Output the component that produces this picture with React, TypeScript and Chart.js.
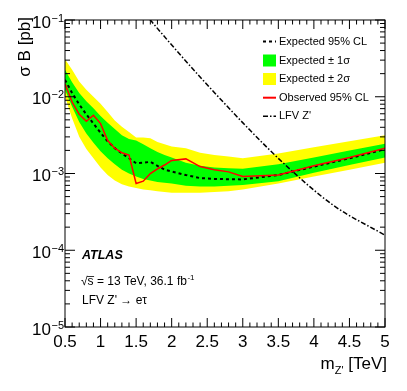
import { useEffect, useRef } from 'react';
import { Chart, registerables } from 'chart.js';

Chart.register(...registerables);

const massPoints = [0.5, 0.6, 0.7, 0.8, 0.9, 1.0, 1.1, 1.2, 1.3, 1.4, 1.5, 1.6, 1.7, 1.8, 1.9, 2.0, 2.2, 2.4, 2.6, 2.8, 3.0, 3.5, 4.0, 4.5, 5.0];
const observedLimit = [0.0148, 0.00851, 0.00589, 0.00479, 0.00575, 0.00447, 0.00269, 0.00214, 0.00186, 0.00174, 0.000741, 0.000794, 0.00100, 0.00115, 0.00129, 0.00148, 0.00155, 0.00123, 0.00112, 0.00105, 0.000912, 0.000955, 0.00126, 0.00162, 0.00214];
const expectedLimit = [0.0166, 0.0112, 0.00794, 0.00589, 0.00447, 0.00339, 0.00263, 0.00214, 0.00182, 0.00158, 0.00136, 0.00138, 0.00142, 0.00126, 0.00112, 0.00106, 0.000955, 0.000871, 0.000851, 0.000841, 0.000838, 0.000955, 0.00123, 0.00158, 0.00207];
const plus1Sigma = [0.0224, 0.0155, 0.0112, 0.00871, 0.00708, 0.00562, 0.00457, 0.00380, 0.00316, 0.00282, 0.00269, 0.00240, 0.00214, 0.00191, 0.00174, 0.00162, 0.00138, 0.00126, 0.00120, 0.00117, 0.00115, 0.00132, 0.00162, 0.00200, 0.00245];
const minus1Sigma = [0.0123, 0.00741, 0.00468, 0.00331, 0.00251, 0.00195, 0.00158, 0.00132, 0.00112, 0.00100, 0.000912, 0.000851, 0.000813, 0.000776, 0.000759, 0.000741, 0.000692, 0.000676, 0.000676, 0.000692, 0.000708, 0.000794, 0.00102, 0.00129, 0.00162];
const plus2Sigma = [0.0309, 0.0224, 0.0158, 0.0123, 0.0100, 0.00813, 0.00631, 0.00490, 0.00407, 0.00347, 0.00295, 0.00295, 0.00288, 0.00257, 0.00240, 0.00224, 0.00214, 0.00186, 0.00174, 0.00166, 0.00158, 0.00182, 0.00219, 0.00263, 0.00316];
const minus2Sigma = [0.0100, 0.00525, 0.00302, 0.00209, 0.00158, 0.00120, 0.000955, 0.000813, 0.000724, 0.000676, 0.000646, 0.000617, 0.000603, 0.000589, 0.000575, 0.000562, 0.000562, 0.000562, 0.000575, 0.000589, 0.000617, 0.000741, 0.000912, 0.00112, 0.00138];
const zPrimeMass = [1.6, 1.7, 1.94, 2.4, 3.1, 3.57, 4.27, 5.0];
const zPrimeXsec = [0.129, 0.100, 0.0548, 0.0181, 0.00368, 0.00137, 0.000387, 0.000157];

const xTickValues = [0.5, 1, 1.5, 2, 2.5, 3, 3.5, 4, 4.5, 5];
const xTickLabels = ['0.5', '1', '1.5', '2', '2.5', '3', '3.5', '4', '4.5', '5'];
const yTickValues = [1e-1, 1e-2, 1e-3, 1e-4, 1e-5];
const yTickExponents = ['\u22121', '\u22122', '\u22123', '\u22124', '\u22125'];
const legendLabels = ['Expected 95% CL', 'Expected \u00b1 1\u03c3', 'Expected \u00b1 2\u03c3', 'Observed 95% CL', "LFV Z'"];

const FONT = '"Liberation Sans", Arial, Helvetica, sans-serif';
const GREEN = '#00ff00';
const YELLOW = '#ffff00';
const RED = '#ff0000';
const EXP_DASH = [3, 3];
const ZP_DASH = [5, 2, 1.5, 2];

const pts = (xs: number[], ys: number[]) => xs.map((x, i) => ({ x, y: ys[i] }));

const decorPlugin = {
  id: 'rootDecor',
  afterDatasetsDraw(chart: any) {
    const ctx = chart.ctx as CanvasRenderingContext2D;
    const { left, right, top, bottom } = chart.chartArea;
    const xs = chart.scales.x;
    const ys = chart.scales.y;
    ctx.save();
    ctx.strokeStyle = '#000';
    ctx.lineWidth = 1;
    ctx.setLineDash([]);
    ctx.strokeRect(left, top, right - left, bottom - top);
    ctx.beginPath();
    for (let i = 5; i <= 50; i++) {
      const px = xs.getPixelForValue(i / 10);
      const len = i % 5 === 0 ? 9 : 4.5;
      ctx.moveTo(px, bottom);
      ctx.lineTo(px, bottom - len);
      ctx.moveTo(px, top);
      ctx.lineTo(px, top + len);
    }
    for (let e = -5; e <= -1; e++) {
      for (let k = 1; k <= 9; k++) {
        if (e === -1 && k > 1) break;
        const py = ys.getPixelForValue(k * Math.pow(10, e));
        const len = k === 1 ? 10 : 5;
        ctx.moveTo(left, py);
        ctx.lineTo(left + len, py);
        ctx.moveTo(right, py);
        ctx.lineTo(right - len, py);
      }
    }
    ctx.stroke();
    ctx.restore();
  },
  afterDraw(chart: any) {
    const ctx = chart.ctx as CanvasRenderingContext2D;
    const xs = chart.scales.x;
    const ys = chart.scales.y;
    ctx.save();
    ctx.fillStyle = '#000';
    ctx.textBaseline = 'alphabetic';

    // x tick labels
    ctx.font = `17px ${FONT}`;
    ctx.textAlign = 'center';
    xTickValues.forEach((v, i) => {
      ctx.fillText(xTickLabels[i], xs.getPixelForValue(v), 347);
    });

    // y tick labels 10^n
    yTickValues.forEach((v, i) => {
      const py = ys.getPixelForValue(v);
      ctx.font = `11px ${FONT}`;
      ctx.textAlign = 'right';
      const supW = ctx.measureText(yTickExponents[i]).width;
      ctx.fillText(yTickExponents[i], 64, py + 1.5);
      ctx.font = `17px ${FONT}`;
      ctx.fillText('10', 64 - supW - 0.5, py + 7.5);
    });

    // y title
    ctx.save();
    ctx.translate(30, 17);
    ctx.rotate(-Math.PI / 2);
    ctx.font = `17px ${FONT}`;
    ctx.textAlign = 'right';
    ctx.fillText('\u03c3 B [pb]', 0, 0);
    ctx.restore();

    // x title
    ctx.textAlign = 'left';
    ctx.font = `17px ${FONT}`;
    const wM = ctx.measureText('m').width;
    const wRest = ctx.measureText(' [TeV]').width;
    ctx.font = `11px ${FONT}`;
    const wSub = ctx.measureText("Z'").width;
    const x0 = 387 - (wM + wSub + wRest);
    ctx.font = `17px ${FONT}`;
    ctx.fillText('m', x0, 369);
    ctx.fillText(' [TeV]', x0 + wM + wSub, 369);
    ctx.font = `11px ${FONT}`;
    ctx.fillText("Z'", x0 + wM, 374);

    // legend
    const lx0 = 263;
    const lx1 = 276;
    const rows = [41.5, 60.5, 79, 97.7, 116.2];
    ctx.font = `11px ${FONT}`;
    ctx.textBaseline = 'middle';
    ctx.textAlign = 'left';
    legendLabels.forEach((t, i) => ctx.fillText(t, 279, rows[i]));
    ctx.fillStyle = GREEN;
    ctx.fillRect(lx0, rows[1] - 6, lx1 - lx0, 12);
    ctx.fillStyle = YELLOW;
    ctx.fillRect(lx0, rows[2] - 6, lx1 - lx0, 12);
    ctx.lineWidth = 2;
    ctx.strokeStyle = '#000';
    ctx.setLineDash(EXP_DASH);
    ctx.beginPath();
    ctx.moveTo(lx0, rows[0]);
    ctx.lineTo(lx1, rows[0]);
    ctx.stroke();
    ctx.setLineDash([]);
    ctx.strokeStyle = RED;
    ctx.beginPath();
    ctx.moveTo(lx0, rows[3]);
    ctx.lineTo(lx1, rows[3]);
    ctx.stroke();
    ctx.strokeStyle = '#000';
    ctx.lineWidth = 1.5;
    ctx.setLineDash(ZP_DASH);
    ctx.beginPath();
    ctx.moveTo(lx0, rows[4]);
    ctx.lineTo(lx1, rows[4]);
    ctx.stroke();
    ctx.setLineDash([]);

    // labels
    ctx.fillStyle = '#000';
    ctx.font = `italic bold 12.5px ${FONT}`;
    ctx.fillText('ATLAS', 82, 256);
    ctx.font = `12px ${FONT}`;
    const sq = '\u221a';
    const wSq = ctx.measureText(sq).width;
    const wS = ctx.measureText('s').width;
    const mainText = 's = 13 TeV, 36.1 fb';
    ctx.fillText(sq, 81, 281.5);
    ctx.fillText(mainText, 81 + wSq, 281.5);
    const wMain = ctx.measureText(mainText).width;
    ctx.lineWidth = 0.8;
    ctx.beginPath();
    ctx.moveTo(81 + wSq - 0.5, 276.5);
    ctx.lineTo(81 + wSq + wS + 0.5, 276.5);
    ctx.stroke();
    ctx.font = `8px ${FONT}`;
    ctx.fillText('-1', 81 + wSq + wMain + 0.5, 277.5);
    ctx.font = `12px ${FONT}`;
    ctx.fillText("LFV Z' \u2192 e\u03c4", 82, 301);
    ctx.restore();
  },
};

export default function App() {
  const canvasRef = useRef<HTMLCanvasElement | null>(null);
  useEffect(() => {
    if (!canvasRef.current) return;
    const none = 'rgba(0,0,0,0)';
    const chart = new Chart(canvasRef.current, {
      type: 'line',
      data: {
        datasets: [
          { label: 'Observed 95% CL', data: pts(massPoints, observedLimit), borderColor: RED, borderWidth: 1.5, fill: false },
          { label: 'Expected 95% CL', data: pts(massPoints, expectedLimit), borderColor: '#000', borderWidth: 2, borderDash: EXP_DASH, fill: false },
          { label: "LFV Z'", data: pts(zPrimeMass, zPrimeXsec), borderColor: '#000', borderWidth: 1.5, borderDash: ZP_DASH, fill: false, cubicInterpolationMode: 'monotone' },
          { label: '+1s', data: pts(massPoints, plus1Sigma), borderColor: none, borderWidth: 0, backgroundColor: GREEN, fill: '+1' },
          { label: '-1s', data: pts(massPoints, minus1Sigma), borderColor: none, borderWidth: 0, fill: false },
          { label: '+2s', data: pts(massPoints, plus2Sigma), borderColor: none, borderWidth: 0, backgroundColor: YELLOW, fill: '+1' },
          { label: '-2s', data: pts(massPoints, minus2Sigma), borderColor: none, borderWidth: 0, fill: false },
        ] as any,
      },
      options: {
        animation: false,
        responsive: false,
        events: [],
        layout: { padding: { left: 65, top: 20, right: 22, bottom: 64 } },
        elements: { point: { radius: 0 }, line: { tension: 0 } },
        scales: {
          x: { type: 'linear', min: 0.5, max: 5, display: false },
          y: { type: 'logarithmic', min: 1e-5, max: 0.1, display: false },
        },
        plugins: { legend: { display: false }, tooltip: { enabled: false } },
      } as any,
      plugins: [decorPlugin],
    });
    return () => chart.destroy();
  }, []);
  return (
    <div style={{ position: 'fixed', left: 0, top: 0, width: 407, height: 391, background: '#fff' }}>
      <canvas ref={canvasRef} width={407} height={391} style={{ display: 'block' }} />
    </div>
  );
}
